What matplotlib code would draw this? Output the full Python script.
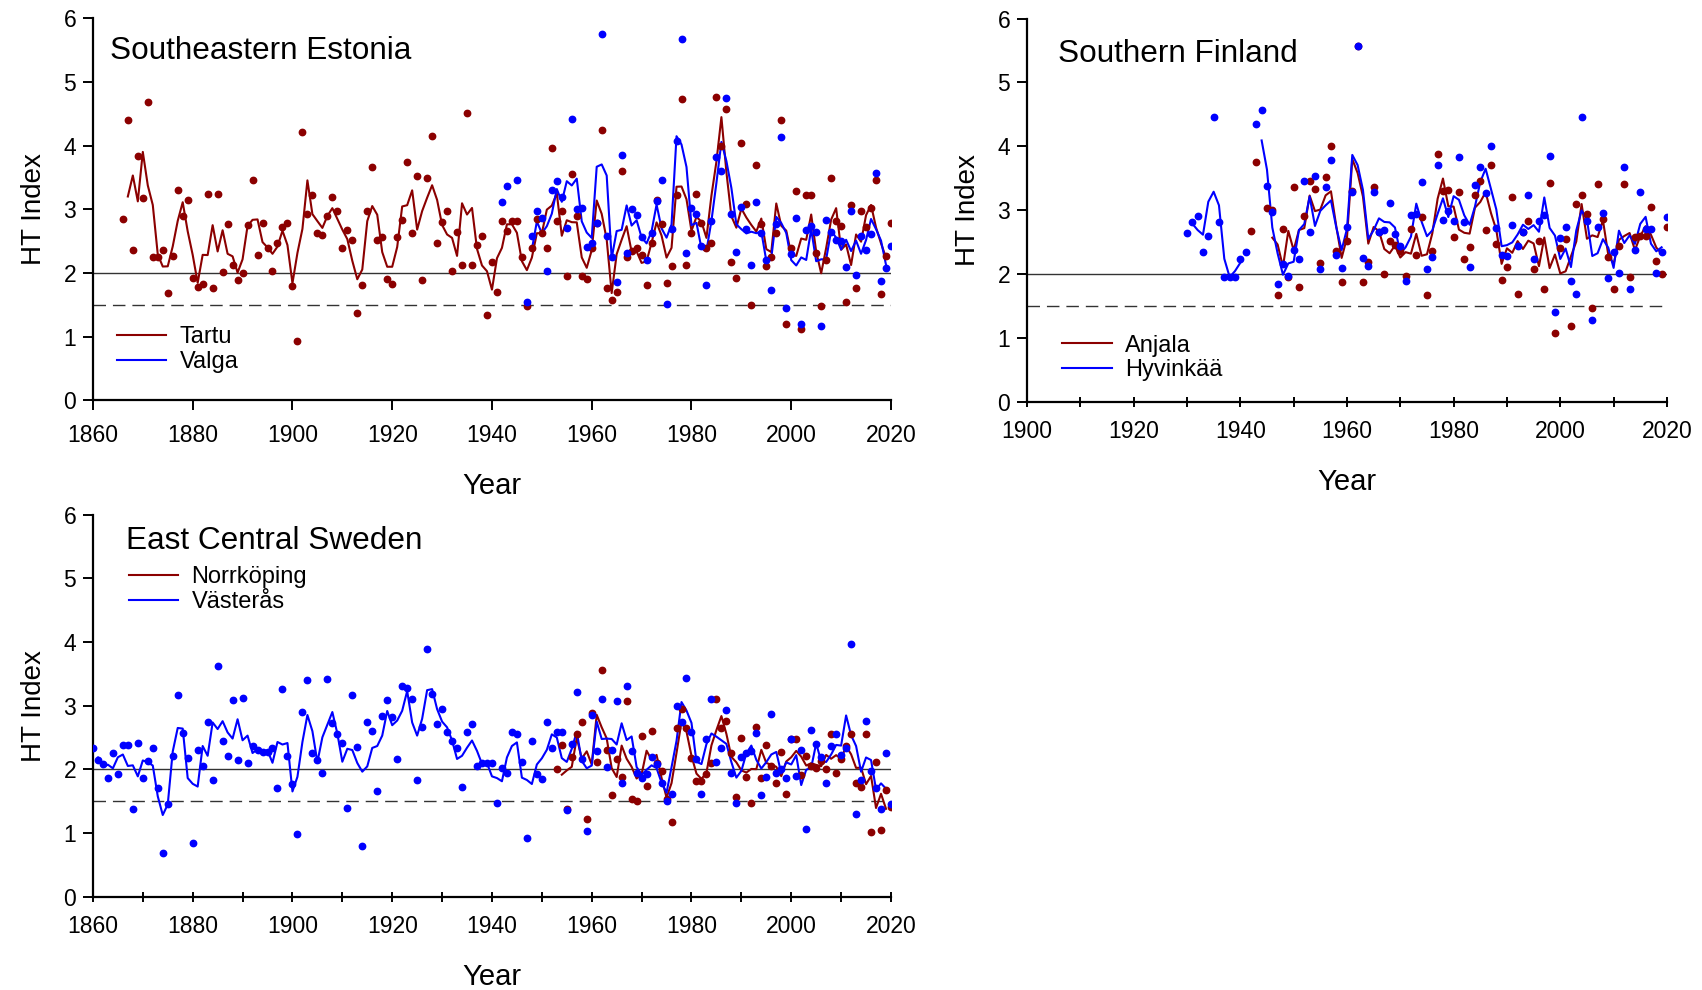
import numpy as np
import pandas as pd
import matplotlib

matplotlib.use("Agg")
import matplotlib.pyplot as plt
from matplotlib.lines import Line2D

"""
HT index series, one value per year (nan = no data)
"""

nan = np.nan

tartu_start = 1866
tartu = [
    2.85, 4.40, 2.36, 3.84, 3.18, 4.69, 2.26, 2.26, 2.36, 1.69,
    2.27, 3.30, 2.89, 3.15, 1.93, 1.78, 1.83, 3.25, 1.77, 3.24,
    2.01, 2.77, 2.13, 1.89, 2.00, 2.76, 3.46, 2.29, 2.78, 2.39,
    2.04, 2.48, 2.73, 2.79, 1.80, 0.93, 4.22, 2.93, 3.22, 2.63,
    2.60, 2.90, 3.19, 2.97, 2.40, 2.68, 2.52, 1.38, 1.81, 2.98,
    3.66, 2.52, 2.57, 1.90, 1.83, 2.57, 2.83, 3.74, 2.63, 3.53,
    1.89, 3.50, 4.16, 2.48, 2.81, 2.98, 2.03, 2.65, 2.13, 4.51,
    2.12, 2.44, 2.58, 1.34, 2.17, 1.71, 2.82, 2.66, 2.82, 2.82,
    2.26, 1.48, 2.40, 2.85, 2.63, 2.40, 3.96, 2.82, 2.98, 1.96,
    3.55, 2.89, 1.95, 1.90, 2.40, 2.78, 4.24, 1.77, 1.58, 1.71,
    3.60, 2.26, 2.35, 2.39, 2.28, 1.81, 2.47, 3.15, 2.77, 1.85,
    2.11, 3.23, 4.73, 2.12, 2.63, 3.24, 2.78, 2.40, 2.48, 4.77,
    4.00, 4.58, 2.18, 1.92, 4.04, 3.08, 1.50, 3.69, 2.77, 2.11,
    2.25, 2.63, 4.40, 1.20, 2.40, 3.29, 1.12, 3.22, 3.23, 2.31,
    1.48, 2.20, 3.50, 2.82, 2.74, 1.54, 3.07, 1.77, 2.98, 2.73,
    3.02, 3.46, 1.67, 2.27, 2.79,
]

valga_start = 1942
valga = [
    3.12, 3.37, nan, 3.47, nan, 1.54, 2.59, 2.98, 2.86, 2.04,
    3.31, 3.45, 3.20, 2.71, 4.42, 3.00, 3.03, 2.41, 2.47, 2.78,
    5.76, 2.58, 2.26, 1.86, 3.86, 2.32, 3.01, 2.91, 2.57, 2.20,
    2.63, 3.14, 3.46, 1.51, 2.70, 4.08, 5.67, 2.31, 3.02, 2.93,
    2.42, 1.81, 2.82, 3.83, 3.60, 4.75, 2.93, 2.33, 3.04, 2.70,
    2.13, 3.12, 2.63, 2.21, 1.74, 2.77, 4.14, 1.45, 2.30, 2.86,
    1.20, 2.68, 2.74, 2.65, 1.17, 2.83, 2.65, 2.52, 2.50, 2.09,
    2.98, 1.97, 2.58, 2.36, 2.62, 3.57, 1.88, 2.08, 2.43,
]

anjala_start = 1942
anjala = [
    2.67, 3.76, nan, 3.03, 3.00, 1.67, 2.71, 1.95, 3.36, 1.80,
    2.90, 3.45, 3.33, 2.17, 3.52, 4.00, 2.36, 1.87, 2.52, 3.30,
    5.57, 1.87, 2.19, 3.36, 2.65, 2.00, 2.52, 2.45, 2.36, 1.96,
    2.70, 2.29, 2.89, 1.67, 2.36, 3.87, 3.30, 3.31, 2.57, 3.28,
    2.23, 2.42, 3.24, 3.45, 2.69, 3.70, 2.47, 1.90, 2.10, 3.20,
    1.69, 2.65, 2.83, 2.08, 2.52, 1.76, 3.43, 1.08, 2.40, 2.54,
    1.18, 3.10, 3.24, 2.94, 1.47, 3.40, 2.86, 2.26, 1.77, 2.43,
    3.40, 1.95, 2.57, 2.60, 2.60, 3.04, 2.20, 2.00, 2.74,
]

hyvinkaa_start = 1930
hyvinkaa = [
    2.64, 2.81, 2.91, 2.34, 2.59, 4.46, 2.81, 1.95, 1.95, 1.95,
    2.23, 2.34, nan, 4.34, 4.56, 3.37, 2.97, 1.84, 2.15, 1.97,
    2.37, 2.23, 3.46, 2.65, 3.53, 2.07, 3.36, 3.79, 2.30, 2.09,
    2.73, 3.29, 5.57, 2.25, 2.12, 3.28, 2.65, 2.68, 3.11, 2.63,
    2.44, 1.89, 2.92, 2.94, 3.44, 2.07, 2.26, 3.71, 2.85, 2.99,
    2.83, 3.83, 2.82, 2.10, 3.39, 3.67, 3.26, 4.01, 2.72, 2.30,
    2.28, 2.77, 2.43, 2.65, 3.23, 2.23, 2.83, 2.92, 3.84, 1.40,
    2.56, 2.74, 1.89, 1.69, 4.46, 2.83, 1.27, 2.74, 2.96, 1.93,
    2.34, 2.01, 3.68, 1.76, 2.37, 3.28, 2.70, 2.70, 2.02, 2.34,
    2.89,
]

norrkoping_start = 1953
norrkoping = [
    2.00, 2.38, 1.37, 2.20, 2.55, 2.74, 1.22, 2.89, 2.12, 3.56,
    2.30, 1.60, 2.16, 1.88, 3.08, 1.54, 1.50, 2.53, 1.74, 2.61,
    2.10, 1.97, 1.53, 1.17, 2.65, 2.95, 2.65, 2.18, 1.81, 1.81,
    1.93, 2.10, 3.10, 2.65, 2.76, 2.26, 1.57, 2.50, 1.88, 1.47,
    2.67, 1.87, 2.38, 2.05, 1.79, 2.28, 1.61, 2.48, 2.48, 1.91,
    2.21, 2.06, 2.02, 2.13, 2.00, 2.55, 1.95, 2.17, 2.37, 2.55,
    1.79, 1.73, 2.56, 1.01, 2.12, 1.05, 1.68, 1.41,
]

vasteras_start = 1860
vasteras = [
    2.33, 2.14, 2.09, 1.87, 2.26, 1.92, 2.39, 2.39, 1.38, 2.42,
    1.87, 2.13, 2.34, 1.71, 0.68, 1.46, 2.21, 3.17, 2.57, 2.18,
    0.84, 2.30, 2.05, 2.75, 1.84, 3.62, 2.44, 2.21, 3.09, 2.15,
    3.12, 2.10, 2.37, 2.30, 2.28, 2.28, 2.33, 1.70, 3.26, 2.21,
    1.77, 0.98, 2.90, 3.41, 2.25, 2.14, 1.95, 3.42, 2.73, 2.55,
    2.41, 1.40, 3.16, 2.35, 0.79, 2.75, 2.60, 1.66, 2.84, 3.09,
    2.82, 2.17, 3.31, 3.28, 3.10, 1.83, 2.66, 3.89, 3.18, 2.71,
    2.95, 2.59, 2.44, 2.33, 1.72, 2.59, 2.71, 2.06, 2.10, 2.10,
    2.10, 1.47, 2.02, 1.95, 2.59, 2.56, 2.12, 0.93, 2.45, 1.93,
    1.85, 2.74, 2.33, 2.58, 2.59, 1.36, 2.40, 3.21, 2.16, 1.03,
    2.86, 2.29, 3.10, 2.04, 2.31, 3.08, 1.78, 3.31, 2.29, 1.95,
    1.87, 1.92, 2.19, 2.08, 1.79, 1.50, 1.61, 2.99, 2.74, 3.44,
    2.59, 2.16, 1.61, 2.48, 3.10, 2.11, 2.33, 2.93, 1.94, 1.47,
    2.20, 2.26, 2.29, 2.57, 1.59, 1.88, 2.87, 1.95, 2.00, 1.86,
    2.47, 1.90, 2.30, 1.06, 2.62, 2.40, 2.20, 1.78, 2.37, 2.55,
    2.23, 2.34, 3.97, 1.30, 1.83, 2.76, 1.97, 1.71, 1.37, 2.26,
    1.46,
]

RED = "#8b0000"
BLUE = "#0000ff"

plt.rcParams["font.family"] = ["Liberation Sans", "DejaVu Sans"]


def to_series(start, values):
    years = np.arange(start, start + len(values))
    return pd.Series(values, index=years, dtype=float)


def plot_station(ax, s, color):
    # 3-year centred running mean, only where all three years exist
    smooth = s.rolling(3, center=True, min_periods=3).mean()
    ax.plot(smooth.index, smooth.values, color=color, lw=1.5, zorder=3,
            solid_joinstyle="round")
    ax.plot(s.index, s.values, "o", color=color, ms=4.6, mec=color, zorder=4)


def style_axes(ax, xmin, minor=None, tickdir="out"):
    ax.set_xlim(xmin, 2020)
    ax.set_ylim(0, 6)
    ax.set_xticks(np.arange(xmin, 2021, 20))
    if minor:
        ax.set_xticks(np.arange(xmin, 2021, minor), minor=True)
    ax.set_yticks(range(0, 7))
    for side in ["top", "right"]:
        ax.spines[side].set_visible(False)
    for side in ["left", "bottom"]:
        ax.spines[side].set_linewidth(1.6)
    ax.tick_params(axis="both", which="both", labelsize=16.5, width=1.4)
    ax.tick_params(axis="y", length=7, pad=5)
    ax.tick_params(axis="x", which="both", length=7, pad=10, direction=tickdir)
    ax.axhline(2, color="#333333", lw=1.0, zorder=1)
    ax.axhline(1.5, color="#333333", lw=1.0, ls=(0, (9, 5)), zorder=1)
    ax.set_xlabel("Year", fontsize=21, labelpad=18)
    ax.set_ylabel("HT Index", fontsize=20, labelpad=12)


def add_legend(ax, names, x, y):
    handles = [Line2D([], [], color=RED, lw=1.5), Line2D([], [], color=BLUE, lw=1.5)]
    ax.legend(
        handles,
        names,
        loc="upper left",
        bbox_to_anchor=(x, y),
        frameon=False,
        fontsize=17,
        handlelength=2.1,
        handletextpad=0.55,
        labelspacing=0.12,
        borderpad=0,
        borderaxespad=0,
    )


def make_figure():
    fig = plt.figure(figsize=(17.02, 9.90), dpi=100)

    ax1 = fig.add_axes([0.0546, 0.5955, 0.4689, 0.3859])
    plot_station(ax1, to_series(tartu_start, tartu), RED)
    plot_station(ax1, to_series(valga_start, valga), BLUE)
    style_axes(ax1, 1860)
    ax1.text(0.022, 0.915, "Southeastern Estonia", transform=ax1.transAxes,
             fontsize=22.7, va="center")
    add_legend(ax1, ["Tartu", "Valga"], 0.030, 0.195)

    ax2 = fig.add_axes([0.6034, 0.5944, 0.376, 0.3869])
    plot_station(ax2, to_series(anjala_start, anjala), RED)
    plot_station(ax2, to_series(hyvinkaa_start, hyvinkaa), BLUE)
    style_axes(ax2, 1900, minor=10, tickdir="inout")
    ax2.text(0.048, 0.907, "Southern Finland", transform=ax2.transAxes,
             fontsize=22.7, va="center")
    add_legend(ax2, ["Anjala", "Hyvinkää"], 0.055, 0.175)

    ax3 = fig.add_axes([0.0546, 0.0942, 0.4689, 0.386])
    plot_station(ax3, to_series(norrkoping_start, norrkoping), RED)
    plot_station(ax3, to_series(vasteras_start, vasteras), BLUE)
    style_axes(ax3, 1860, minor=10, tickdir="inout")
    ax3.text(0.041, 0.93, "East Central Sweden", transform=ax3.transAxes,
             fontsize=22.7, va="center")
    add_legend(ax3, ["Norrköping", "Västerås"], 0.045, 0.865)

    fig.savefig("out.png", dpi=100)
    plt.close(fig)


if __name__ == "__main__":
    make_figure()
